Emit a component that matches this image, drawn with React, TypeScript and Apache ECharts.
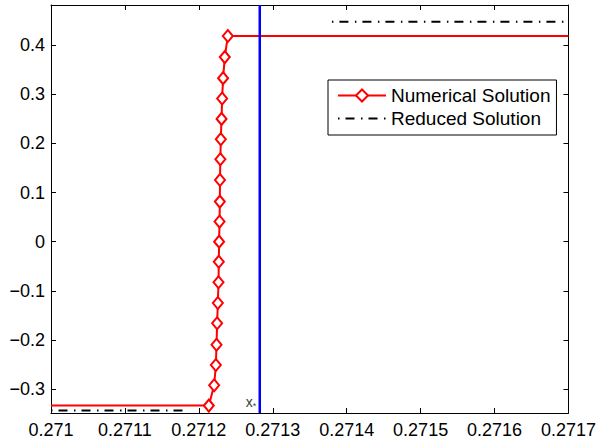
import React, { useEffect, useRef } from 'react';
import * as echarts from 'echarts';

const xTicks = [0.271, 0.2711, 0.2712, 0.2713, 0.2714, 0.2715, 0.2716, 0.2717];
const yTicks = [-0.3, -0.2, -0.1, 0, 0.1, 0.2, 0.3, 0.4];
const xRange = [0.271, 0.2717];
const yRange = [-0.348, 0.481];

// Numerical solution: first and last points are line ends without markers
const numericalX = [
  0.271, 0.2712135, 0.2712207, 0.271223, 0.2712239, 0.2712247, 0.2712257, 0.2712266,
  0.271227, 0.2712274, 0.271228, 0.2712284, 0.2712286, 0.2712291, 0.2712297, 0.2712307,
  0.2712315, 0.2712328, 0.2712351, 0.2712392, 0.2717,
];
const numericalY = [
  -0.333, -0.333, -0.2917, -0.2505, -0.2092, -0.1657, -0.1244, -0.0823, -0.0405, 0.0002,
  0.0409, 0.0815, 0.1256, 0.1677, 0.2084, 0.2496, 0.2909, 0.3324, 0.3751, 0.418, 0.418,
];

const reducedLowX = [0.271, 0.27118];
const reducedLowY = [-0.343, -0.343];
const reducedHighX = [0.27138, 0.2717];
const reducedHighY = [0.447, 0.447];

const xStar = 0.2712824;

const FONT = '"Liberation Sans", Arial, Helvetica, sans-serif';
const dashDot = [1.5, 6, 9, 6.5];

function fmtX(v: number) {
  return String(parseFloat(v.toFixed(4)));
}
function fmtY(v: number) {
  if (Math.abs(v) < 1e-9) return '0';
  return v < 0 ? '\u2212' + Math.abs(v).toFixed(1) : v.toFixed(1);
}

export default function App() {
  const ref = useRef<HTMLDivElement>(null);
  useEffect(() => {
    if (!ref.current) return;
    const chart = echarts.init(ref.current, undefined, { renderer: 'svg' });
    const lastIdx = numericalX.length - 1;
    const numData = numericalX.map((x, i) =>
      i === 0 || i === lastIdx
        ? { value: [x, numericalY[i]], symbol: 'none' }
        : { value: [x, numericalY[i]] }
    );
    const axisCommonX = {
      type: 'value',
      min: xRange[0],
      max: xRange[1],
      splitLine: { show: false },
      axisLine: { show: true, onZero: false, lineStyle: { color: '#000', width: 1 } },
      axisTick: { show: true, inside: true, length: 5, customValues: xTicks, lineStyle: { color: '#000' } },
    };
    const axisCommonY = {
      type: 'value',
      min: yRange[0],
      max: yRange[1],
      splitLine: { show: false },
      axisLine: { show: true, onZero: false, lineStyle: { color: '#000', width: 1 } },
      axisTick: { show: true, inside: true, length: 5, customValues: yTicks, lineStyle: { color: '#000' } },
    };
    chart.setOption({
      animation: false,
      backgroundColor: '#fff',
      grid: { left: 51, right: 30, top: 5, bottom: 30, containLabel: false },
      legend: {
        data: [
          { name: 'Numerical Solution' },
          {
            name: 'Reduced Solution',
            itemStyle: { color: 'rgba(0,0,0,0)', borderColor: 'rgba(0,0,0,0)', borderWidth: 0 },
          },
        ],
        orient: 'vertical',
        left: 328,
        top: 80,
        padding: [6, 6, 7, 9],
        itemWidth: 48,
        itemHeight: 15,
        itemGap: 4,
        borderColor: '#000',
        borderWidth: 1,
        backgroundColor: '#fff',
        textStyle: { fontFamily: FONT, fontSize: 19, color: '#000', lineHeight: 19 },
      },
      xAxis: [
        {
          ...axisCommonX,
          position: 'bottom',
          axisLabel: {
            show: true,
            customValues: xTicks,
            formatter: fmtX,
            margin: 8,
            color: '#000',
            fontFamily: FONT,
            fontSize: 18,
            showMinLabel: true,
            showMaxLabel: true,
          },
        },
        { ...axisCommonX, position: 'top', axisLabel: { show: false } },
      ],
      yAxis: [
        {
          ...axisCommonY,
          position: 'left',
          axisLabel: {
            show: true,
            customValues: yTicks,
            formatter: fmtY,
            margin: 6,
            color: '#000',
            fontFamily: FONT,
            fontSize: 18,
          },
        },
        { ...axisCommonY, position: 'right', axisLabel: { show: false } },
      ],
      series: [
        {
          name: 'Numerical Solution',
          type: 'line',
          xAxisIndex: 0,
          yAxisIndex: 0,
          data: numData,
          symbol: 'emptyDiamond',
          symbolSize: [10, 12],
          showAllSymbol: true,
          color: '#ff0000',
          lineStyle: { color: '#ff0000', width: 2 },
          itemStyle: { color: '#ff0000', borderColor: '#ff0000', borderWidth: 3 },
          z: 3,
        },
        {
          name: 'Reduced Solution',
          type: 'line',
          data: reducedLowX.map((x, i) => [x, reducedLowY[i]]),
          symbol: 'none',
          color: '#000',
          lineStyle: { color: '#000', width: 2, type: dashDot },
          z: 2,
        },
        {
          name: 'Reduced Solution',
          type: 'line',
          data: reducedHighX.map((x, i) => [x, reducedHighY[i]]),
          symbol: 'none',
          color: '#000',
          lineStyle: { color: '#000', width: 2, type: dashDot },
          z: 2,
        },
        {
          name: 'xstar',
          type: 'line',
          data: [
            [xStar, yRange[0]],
            [xStar, yRange[1]],
          ],
          symbol: 'none',
          color: '#0000ff',
          lineStyle: { color: '#0000ff', width: 2.5 },
          z: 4,
        },
        {
          name: 'xstarLabel',
          type: 'scatter',
          data: [[xStar, yRange[0]]],
          symbolSize: 1,
          itemStyle: { color: 'rgba(0,0,0,0)' },
          silent: true,
          z: 5,
          label: {
            show: true,
            position: [-3, -19],
            align: 'right',
            verticalAlign: 'top',
            formatter: '{a|x}{b|*}',
            rich: {
              a: { fontFamily: FONT, fontSize: 14, color: '#000' },
              b: { fontFamily: FONT, fontSize: 9, color: '#000', verticalAlign: 'bottom', padding: [8, 0, 0, 0] },
            },
          },
        },
      ],
    });
    return () => chart.dispose();
  }, []);
  return (
    <div
      ref={ref}
      style={{ position: 'fixed', left: 0, top: 0, width: 599, height: 443, background: '#fff' }}
    />
  );
}
